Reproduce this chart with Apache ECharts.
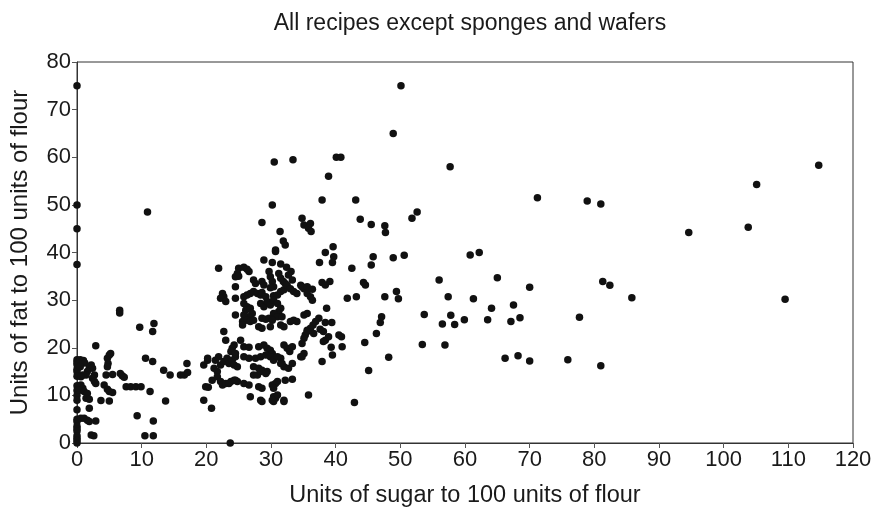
<!DOCTYPE html>
<html>
<head>
<meta charset="utf-8">
<script src="https://cdn.jsdelivr.net/npm/echarts@6/dist/echarts.min.js"></script>
<style>html,body{margin:0;padding:0;background:#fff;}#chart{width:882px;height:517px;}</style>
</head>
<body>
<div id="chart"></div>
<script>
const titleText = 'All recipes except sponges and wafers';
const xAxisName = 'Units of sugar to 100 units of flour';
const yAxisName = 'Units of fat to 100 units of flour';
const xTicks = {min: 0, max: 120, interval: 10};
const yTicks = {min: 0, max: 80, interval: 10};

// recipes with no sugar (x = 0): fat values
const zeroSugarFat = [75, 50, 45, 37.5, 17.5, 17, 16.5, 15.5, 15, 14, 12, 11, 10, 9, 7, 5, 4.5, 3.5, 3, 2.5, 1.5, 1, 0.5, 0];

// [sugar, fat] pairs, sugar up to ~20
const lowSugar = [
  [0.5,17.5],[1,17.3],[1.2,16.8],[0.5,16],[2.2,16.4],[1.9,15.7],[2.4,15.7],[1.6,15],[1.4,14.3],[0.9,14.3],
  [0.6,13.9],[2.7,14.3],[2.4,13.6],[2.7,12.9],[2.9,12.5],[2.9,20.4],[4.5,14.3],[5.5,14.4],[4.7,17.8],[5,18.5],
  [5.2,18.8],[4.8,16.7],[4.7,16],[6.7,14.6],[7,14.1],[7.3,13.8],[0.6,12.2],[0.9,11.5],[0.4,11.1],[1.1,10.8],
  [1.6,10.4],[1.4,9.4],[1.9,9.2],[4.2,12.2],[4.7,11.3],[5,10.8],[5.5,10.6],[3.7,8.9],[5,8.8],[1.9,7.3],
  [0.6,5.2],[1.1,5.2],[1.6,4.8],[1.9,4.5],[2.9,4.6],[2.2,1.7],[2.6,1.5],[7.6,11.8],[8.3,11.8],[9.1,11.8],
  [9.9,11.8],[10.6,17.8],[11.7,17.1],[11.3,10.8],[9.3,5.7],[11.8,4.6],[10.5,1.5],[11.8,1.5],[13.7,8.8],[13.4,15.3],
  [14.4,14.3],[16,14.3],[16.6,14.3],[17.1,14.8],[17,16.7],[6.6,27.9],[6.6,27.3],[9.7,24.3],[11.9,25.1],[11.7,23.4],
  [10.9,48.5],[19.6,16.4],[20.2,17.4],[19.9,11.8],[20.3,11.7],[19.6,9],[20.8,7.3],[20.9,13.2]
];

// [sugar, fat] pairs, main cluster sugar 20-46
const midSugar = [
  [21.9,36.7],[28.6,46.3],[28.9,38.4],[30.2,37.9],[31.5,37.6],[32.4,36.9],[33.1,36],[30.7,40.2],
  [25,36.7],[25.8,36.9],[26.3,36.5],[26.6,36],[24.8,35.6],[24.5,34.9],[25,35],[27.3,34.2],[27.6,33.5],
  [28.6,33.9],[28.9,33.2],[29.7,36],[29.9,34.9],[30.2,33.9],[30.4,32.8],[31.2,35.6],[31.5,34.6],[31.9,33.9],
  [32.2,33.5],[32.7,35.3],[33.3,34.2],[24.5,32.8],[22.5,31.4],[22.7,30.7],[22.2,30.4],[23,29.7],
  [24.5,30.4],[25.8,30.7],[26.3,31.1],[26.8,31.4],[27.3,31.8],[27.9,31.4],[28.4,31.1],[28.6,31.6],[29.2,30.7],
  [29.9,32.6],[30.4,30.9],[31,31.1],[31.5,31.8],[32,32.2],[32.5,33.1],[33,32.4],[33.5,31.8],[34,31.4],
  [34.6,33.1],[35.1,32.4],[35.6,31.4],[25.8,29.3],[26.3,28.6],[26.1,27.9],[26.8,28.3],[27.1,27.2],[26.6,26.5],
  [25.8,26.9],[25.6,25.5],[26.3,25.8],[26.8,25.5],[27.3,25.8],[24.5,26.9],[28.4,29.3],[28.9,28.6],[29.4,29.7],
  [29.9,29],[30.4,30],[31,29.3],[31.5,28.3],[31.2,27.6],[30.4,27.2],[31,26.5],[31.7,26.5],[28.6,26.2],
  [29.2,26],[29.7,26.2],[30.2,25.8],[28.1,24.4],[28.6,24.1],[29.9,24.4],[31.5,24.8],[32,24.4],[33,25.5],
  [33.5,25.8],[34,25.5],[35.1,26.9],[35.6,27.2],[35.6,23.7],[35.3,22.7],[35.1,22],[34.8,20.9],[34.6,18.1],
  [22.7,23.4],[23,21.6],[25.3,21.6],[25.6,24.8],[24.3,20.6],[24,19.9],[23.8,19.2],[25.8,20.2],[26.6,20.1],
  [28.1,20.2],[28.9,20.6],[29.4,19.9],[29.9,19.5],[30.2,18.8],[32,20.6],[32.5,19.9],[32.9,19.2],[33.3,20.2],
  [20.2,17.8],[21.4,17.4],[21.9,18.1],[22.2,16.4],[22.7,17.1],[23.2,17.8],[23.5,16.7],[24,17.4],[24.5,18.1],
  [24.3,16.4],[24.8,16],[24.5,18.8],[21.2,15.7],[21.7,15],[25.8,18.1],[26.6,17.8],[27.6,17.8],[28.4,18.1],
  [29.2,18.5],[29.9,18.1],[30.4,17.4],[31.5,17.8],[31.5,16.7],[32,16],[32.7,15.7],[33.3,16.7],[27.3,16],
  [28.1,15.7],[28.6,15.3],[29.4,15],[21.7,13.9],[22.2,12.9],[22.5,12.2],[23,12.5],[23.8,12.9],[24.3,13.2],
  [24.8,12.9],[25.8,12.5],[26.6,12.2],[27.3,14.3],[27.9,14.3],[28.1,11.8],[28.6,11.5],[28.4,15],[29.2,14.6],
  [30.2,12.2],[30.7,12.5],[31,12.9],[32.2,13.2],[33.3,13.4],[26.8,9.7],[28.4,9],[28.6,8.7],[30.4,9.7],
  [30.7,9.4],[30.4,8.7],[32,8.7],[31,10.1],[35.8,10.1],[23.7,0],[30.4,11.5],[30.2,9],[32,9],[31,18.1],
  [31.7,16.7],[35.1,18.8],[34.8,18.1],[23.5,12.5],[24.5,13.2],
  [30.5,59],[33.4,59.5],[40.1,60],[40.8,60],[38.9,56],[30.2,50],[37.9,51],[43.1,51],[43.8,47],[45.5,45.9],
  [34.8,47.2],[35.1,45.8],[36.1,46.1],[35.8,45.1],[36.2,44.4],[31.4,44.4],[31.9,42.4],[32.2,41.6],[30.7,40.5],
  [38.4,40],[39.6,41.2],[39.7,39.1],[39.5,37.9],[37.5,37.9],[42.5,36.7],[45.8,39.1],[45.5,37.4],[44.3,33.7],
  [44.6,33.2],[37.9,33.7],[38.4,33.2],[39.1,33.9],[41.8,30.4],[43.2,30.7],[38.6,28.3],[34.8,32.8],[35.6,32.8],
  [36.4,32.3],[36.1,30.7],[36.4,30],[37.4,26.2],[36.9,25.5],[36.5,24.8],[36.1,24.1],[35.6,23.4],[38.4,25.3],
  [39.4,25.3],[36.6,23],[37.6,23.9],[38.1,23.4],[38.4,21.6],[38.9,22.3],[38.1,21.3],[40.5,22.7],[41,20.2],
  [39.3,20.1],[39.5,18.5],[37.9,17.1],[40.9,22.3],[44.5,21.1],[46.3,23],[45.1,15.2],[42.9,8.5]
];

// [sugar, fat] pairs, sugar above ~46
const highSugar = [
  [50.1,75],[48.9,65],[57.7,58],[71.2,51.5],[47.6,45.6],[47.7,44.2],[51.8,47.2],[52.6,48.5],[48.9,38.9],[50.6,39.4],
  [47.6,30.7],[49.4,31.8],[49.7,30.3],[60.8,39.5],[62.2,40],[56,34.2],[65,34.7],[70,32.7],[57.4,30.7],[61.3,30.3],
  [64.1,28.3],[67.5,29],[77.7,26.4],[47.1,26.5],[46.9,25.3],[53.7,27],[56.5,25],[57.8,26.8],[58.4,24.9],[59.9,25.9],
  [63.5,25.9],[67.1,25.5],[68.5,26.3],[48.2,18],[53.4,20.7],[56.9,20.6],[66.2,17.8],[68.2,18.3],[70,17.2],[75.9,17.5],
  [114.7,58.3],[105.1,54.3],[78.9,50.8],[81,50.2],[94.6,44.2],[103.8,45.3],[81.3,33.9],[82.4,33.1],[85.8,30.5],
  [109.5,30.2],[81,16.2]
];

const points = zeroSugarFat.map(f => [0, f]).concat(lowSugar, midSugar, highSugar);

const chart = echarts.init(document.getElementById('chart'), null, {renderer: 'canvas'});
const font = '"Liberation Sans", Arial, Helvetica, sans-serif';
const axisCommon = {
  nameLocation: 'middle',
  axisLine: {show: true, onZero: false, lineStyle: {color: '#333', width: 1}},
  axisTick: {show: true, inside: false, length: 5, lineStyle: {color: '#555'}},
  axisLabel: {fontFamily: font, fontSize: 22, color: '#1a1a1a', margin: 6},
  splitLine: {show: false}
};
chart.setOption({
  animation: false,
  backgroundColor: '#fff',
  title: {text: titleText, left: 465, textAlign: 'center', top: 7, textStyle: {fontFamily: font, fontSize: 23, fontWeight: 'normal', color: '#1a1a1a'}},
  grid: {left: 76, right: 29, top: 62, bottom: 74, show: true, borderColor: '#333', borderWidth: 1},
  xAxis: Object.assign({}, axisCommon, {type: 'value', min: xTicks.min, max: xTicks.max, interval: xTicks.interval, name: xAxisName, nameGap: 41,
    nameTextStyle: {fontFamily: font, fontSize: 23.5, color: '#1a1a1a'}}),
  yAxis: Object.assign({}, axisCommon, {type: 'value', min: yTicks.min, max: yTicks.max, interval: yTicks.interval, name: yAxisName, nameGap: 45,
    nameTextStyle: {fontFamily: font, fontSize: 24, color: '#1a1a1a'}}),
  series: [{
    type: 'scatter',
    data: points,
    symbol: 'circle',
    symbolSize: 7.5,
    clip: false,
    itemStyle: {color: '#111', opacity: 1}
  }]
});
</script>
</body>
</html>
